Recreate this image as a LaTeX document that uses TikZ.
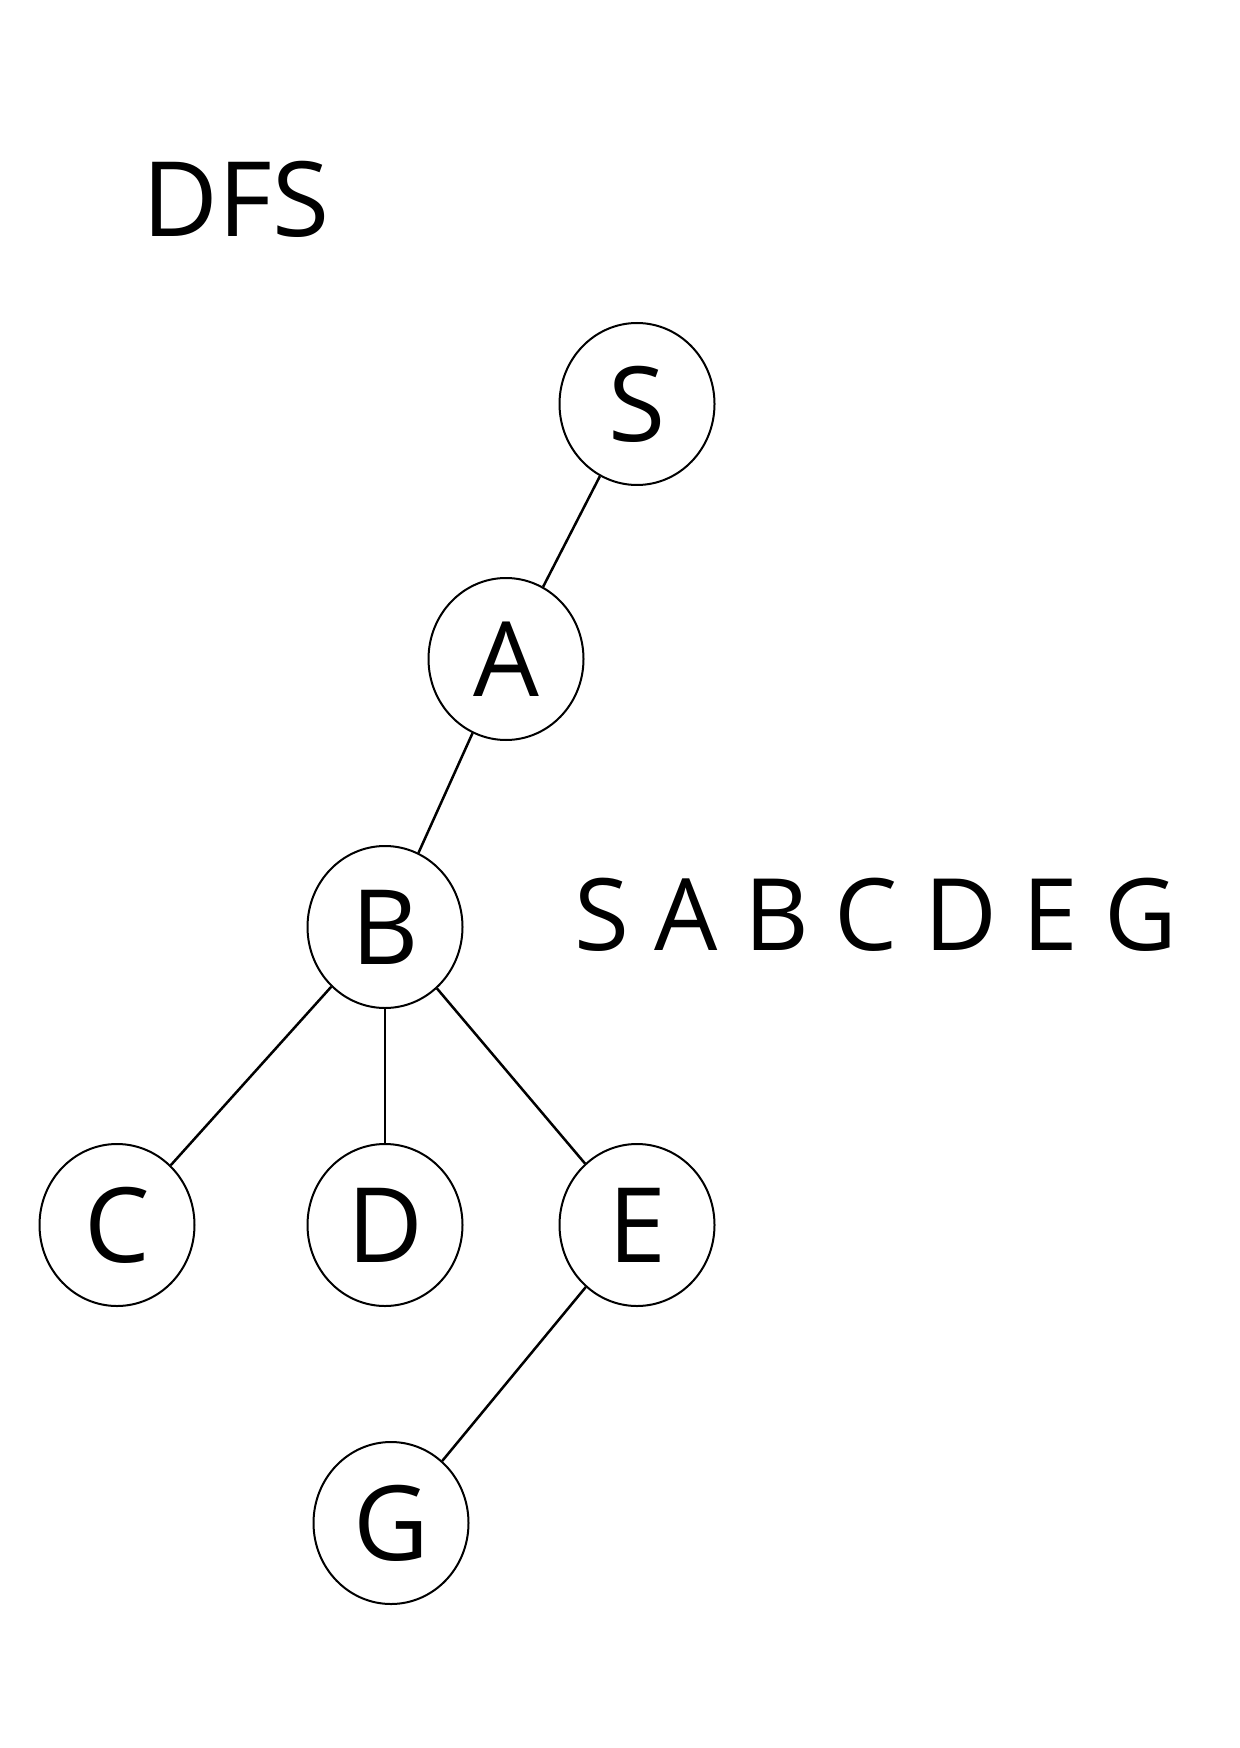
\documentclass[tikz,border=0pt]{standalone}
\usepackage{fontspec}
\setmainfont{Open Sans}
\usepackage{tikz}
\usetikzlibrary{shapes.geometric}

\begin{document}
\begin{tikzpicture}[x=0.5pt,y=-0.5pt]
\useasboundingbox (0,0) rectangle (1240,1748);
\newcommand{\lettersize}{\fontsize{52}{60}\selectfont}
\tikzstyle{every node}= [ellipse,
draw=black, line width=1pt,
 minimum width=77.5pt, minimum height=81pt, inner sep=0pt,
 font=\lettersize];

    \node(S) at (637,404) {S};
    \node(A) at (506,659) {A};
    \node(B) at (385,927) {B};
    \node(C) at (117,1225) {C};
    \node(D) at (385,1225) {D};
    \node(E) at (637,1225) {E};
    \node(G) at (391,1523) {G};

    \node(title)[rectangle,draw=none,minimum size=0pt,anchor=base] at (236,237) {DFS};
    \node(order)[rectangle,draw=none,minimum size=0pt,anchor=base west,
      font=\fontsize{50}{60}\selectfont] at (573,950) {S A B C D E G};

\path[line width=1.25pt]
  (S) edge (A)
  (A) edge (B)
  (B) edge (C)
  (B) edge (D)
  (B) edge (E)
  (E) edge (G);

\end{tikzpicture}
\end{document}
